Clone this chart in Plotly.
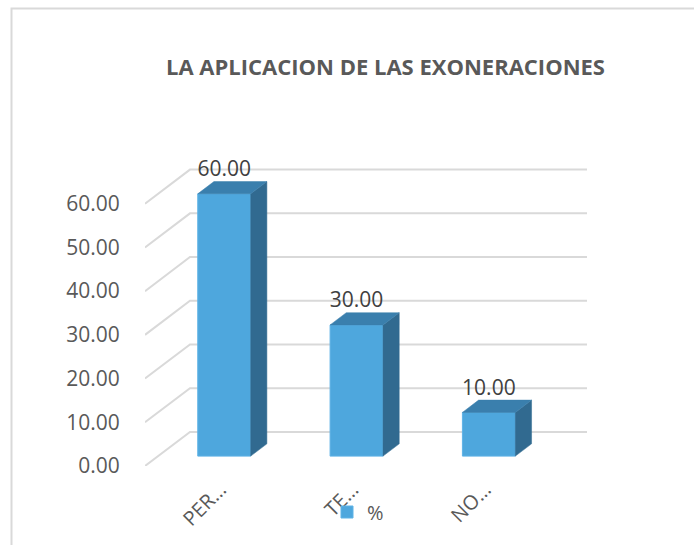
import plotly.graph_objects as go

# Survey result: share of answers per category (%)
categories = ["PER…", "TE…", "NO…"]
values = [60.00, 30.00, 10.00]
y_ticks = [0, 10, 20, 30, 40, 50, 60]
y_tick_labels = ["0.00", "10.00", "20.00", "30.00", "40.00", "50.00", "60.00"]
series_name = "%"
title_text = "LA APLICACION DE LAS EXONERACIONES"

# Oblique projection used to fake the 3-D look (depth in axis units)
DEPTH_X = 0.34      # x shift of the back wall
DEPTH_Y = 7.8       # y shift of the back wall
Z_FRONT = 0.29      # bar front plane (fraction of depth)
Z_BACK = 0.65       # bar back plane
BAR_W = 0.40

C_FRONT = "#4ea7dd"
C_TOP = "#3a7fad"
C_SIDE = "#316a90"
C_GRID = "#d9d9d9"
X_MIN, X_MAX = -0.5, len(categories) - 0.5

fig = go.Figure()

# Side and top faces of each bar
for i, v in enumerate(values):
    xr = i + BAR_W / 2
    xl = i - BAR_W / 2
    xf, yf = Z_FRONT * DEPTH_X, Z_FRONT * DEPTH_Y
    xb, yb = Z_BACK * DEPTH_X, Z_BACK * DEPTH_Y
    fig.add_trace(go.Scatter(
        x=[xr + xf, xr + xb, xr + xb, xr + xf, xr + xf],
        y=[yf, yb, v + yb, v + yf, yf],
        fill="toself", fillcolor=C_SIDE, mode="lines",
        line=dict(color=C_SIDE, width=0.5),
        hoverinfo="skip", showlegend=False))
    fig.add_trace(go.Scatter(
        x=[xl + xf, xr + xf, xr + xb, xl + xb, xl + xf],
        y=[v + yf, v + yf, v + yb, v + yb, v + yf],
        fill="toself", fillcolor=C_TOP, mode="lines",
        line=dict(color=C_TOP, width=0.5),
        hoverinfo="skip", showlegend=False))

# Value labels above the bars
fig.add_trace(go.Scatter(
    x=[i + Z_FRONT * DEPTH_X for i in range(len(values))],
    y=[v + Z_BACK * DEPTH_Y for v in values],
    mode="text", text=[f"{v:.2f}" for v in values],
    textposition="top center",
    textfont=dict(family="Open Sans", size=21, color="#404040"),
    hoverinfo="skip", showlegend=False))

# Front faces of the bars
fig.add_trace(go.Bar(
    x=[i + Z_FRONT * DEPTH_X for i in range(len(values))],
    y=values,
    base=[Z_FRONT * DEPTH_Y] * len(values),
    width=BAR_W,
    marker=dict(color=C_FRONT, line=dict(color="#5fb3e6", width=1)),
    name=series_name, showlegend=True))

# Wall gridlines (drawn beneath the bars): diagonal on the side wall,
# horizontal on the back wall
grid_shapes = []
for v in y_ticks:
    grid_shapes.append(dict(
        type="path", xref="x", yref="y", layer="below",
        path=(f"M {X_MIN},{v} L {X_MIN + DEPTH_X},{v + DEPTH_Y} "
              f"L {X_MAX + DEPTH_X},{v + DEPTH_Y}"),
        line=dict(color=C_GRID, width=2)))

# Chart frame
frame = dict(type="rect", xref="paper", yref="paper",
             x0=(11.5 - 145) / 442, x1=(720 - 145) / 442,
             y0=(466 - 580) / 306, y1=(466 - 8.5) / 306,
             line=dict(color="#d9d9d9", width=2), fillcolor="rgba(0,0,0,0)",
             layer="below")

fig.update_layout(
    width=694, height=545,
    margin=dict(l=145, r=107, t=160, b=79, autoexpand=False),
    paper_bgcolor="white", plot_bgcolor="white",
    title=dict(text=f"<b>{title_text}</b>", x=385.5 / 694, xanchor="center",
               y=1 - 67.5 / 545, yanchor="middle",
               font=dict(family="Open Sans", size=22, color="#595959")),
    xaxis=dict(range=[X_MIN, X_MAX + DEPTH_X], showgrid=False, zeroline=False,
               showline=False, tickmode="array",
               tickvals=[i + 0.07 for i in range(len(categories))],
               ticktext=categories, tickangle=-45,
               ticks="outside", ticklen=3, tickcolor="rgba(0,0,0,0)",
               tickfont=dict(family="Open Sans", size=20, color="#595959")),
    yaxis=dict(range=[0, 70], showgrid=False, zeroline=False, showline=False,
               tickmode="array", tickvals=y_ticks, ticktext=y_tick_labels,
               ticks="outside", ticklen=20, tickcolor="rgba(0,0,0,0)",
               tickfont=dict(family="Open Sans", size=21, color="#595959")),
    legend=dict(orientation="h", x=(327 - 145) / 442, xanchor="left",
                y=(466 - 512) / 306, yanchor="middle",
                font=dict(family="Open Sans", size=20, color="#595959"),
                bgcolor="rgba(0,0,0,0)"),
    shapes=[frame] + grid_shapes,
)

fig.write_html("out.html")
